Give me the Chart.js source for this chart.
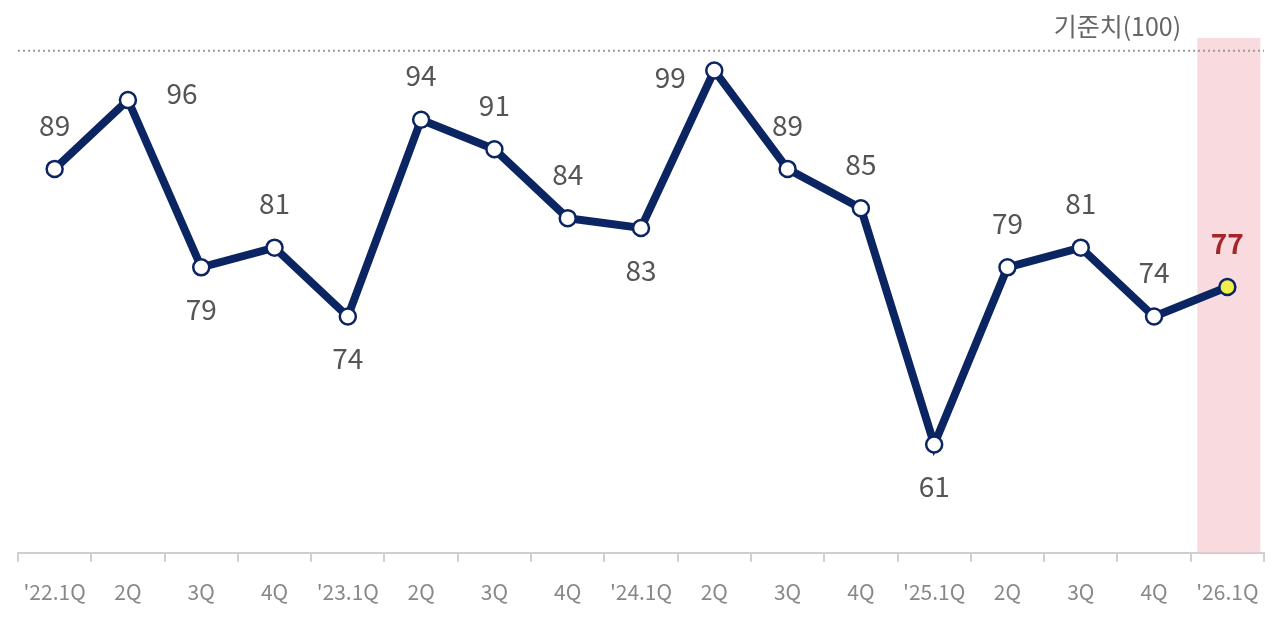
<!DOCTYPE html>
<html><head><meta charset="utf-8">
<script src="https://cdn.jsdelivr.net/npm/chart.js@4"></script>
<style>html,body{margin:0;padding:0;background:#fff}#wrap{width:1280px;height:627px}</style>
</head><body><div id="wrap"><canvas id="c" width="1280" height="627"></canvas></div>
<script>
const categories = ["'22.1Q","2Q","3Q","4Q","'23.1Q","2Q","3Q","4Q","'24.1Q","2Q","3Q","4Q","'25.1Q","2Q","3Q","4Q","'26.1Q"];
const values = [89,96,79,81,74,94,91,84,83,99,89,85,61,79,81,74,77];
const referenceValue = 100;
const referenceLabel = "기준치(100)";

const labelSide = ['top','right','bottom','top','bottom','top','top','top','bottom','left','top','top','bottom','top','top','top','top'];
const FONT = "'Noto Sans CJK KR', 'Noto Sans', sans-serif";
const last = values.length - 1;

const overlay = {
  id: 'overlay',
  beforeDatasetsDraw(chart) {
    const {ctx, chartArea, scales:{x, y}} = chart;
    const step = x.getPixelForValue(1) - x.getPixelForValue(0);
    const cx = x.getPixelForValue(last);
    ctx.save();
    ctx.fillStyle = 'rgba(244,196,204,0.62)';
    ctx.fillRect(cx - step*0.41, chartArea.top, step*0.86, chartArea.bottom - chartArea.top);
    const ry = y.getPixelForValue(referenceValue + 1);
    ctx.strokeStyle = '#9a9a9a';
    ctx.lineWidth = 2;
    ctx.setLineDash([2,3]);
    ctx.beginPath();
    ctx.moveTo(chartArea.left, ry);
    ctx.lineTo(chartArea.right, ry);
    ctx.stroke();
    ctx.setLineDash([]);
    ctx.fillStyle = '#666';
    ctx.font = "25px " + FONT;
    ctx.textAlign = 'center';
    ctx.textBaseline = 'middle';
    ctx.fillText(referenceLabel, x.getPixelForValue(last - 1.5), ry - 24);
    ctx.restore();
  },
  afterDatasetsDraw(chart) {
    const {ctx} = chart;
    const meta = chart.getDatasetMeta(0);
    ctx.save();
    ctx.textBaseline = 'middle';
    ctx.textAlign = 'center';
    meta.data.forEach((pt, i) => {
      let tx = pt.x, ty = pt.y;
      const side = labelSide[i];
      if (side === 'top') ty -= 44;
      else if (side === 'bottom') ty += 42;
      else if (side === 'right') { tx += 54; ty -= 7; }
      else if (side === 'left') { tx -= 44; ty += 7; }
      if (i === last) {
        ctx.fillStyle = '#a3262b';
        ctx.font = "bold 28px " + FONT;
      } else {
        ctx.fillStyle = '#555';
        ctx.font = "28px " + FONT;
      }
      ctx.fillText(String(values[i]), tx, ty);
    });
    ctx.restore();
  }
};

new Chart(document.getElementById('c'), {
  type: 'line',
  data: {
    labels: categories,
    datasets: [{
      data: values,
      borderColor: '#0b2562',
      borderWidth: 8,
      tension: 0,
      pointRadius: 8,
      pointBorderWidth: 2.5,
      pointBorderColor: '#0b2562',
      pointBackgroundColor: values.map((v,i) => i === last ? '#f2ef4a' : '#ffffff'),
      clip: false
    }]
  },
  options: {
    responsive: false,
    animation: false,
    layout: {padding: {left: 18, right: 16, top: 38, bottom: 4}},
    plugins: {legend: {display: false}, tooltip: {enabled: false}},
    scales: {
      x: {
        offset: true,
        grid: {drawOnChartArea: false, drawTicks: true, tickLength: 9, offset: true, color: '#cfcfcf', lineWidth: 2},
        border: {color: '#cfcfcf', width: 2},
        ticks: {color: '#888', font: {family: FONT, size: 21}, padding: 18, maxRotation: 0, autoSkip: false}
      },
      y: {display: false, min: 50, max: 102.3}
    }
  },
  plugins: [overlay]
});
</script>
</body></html>
